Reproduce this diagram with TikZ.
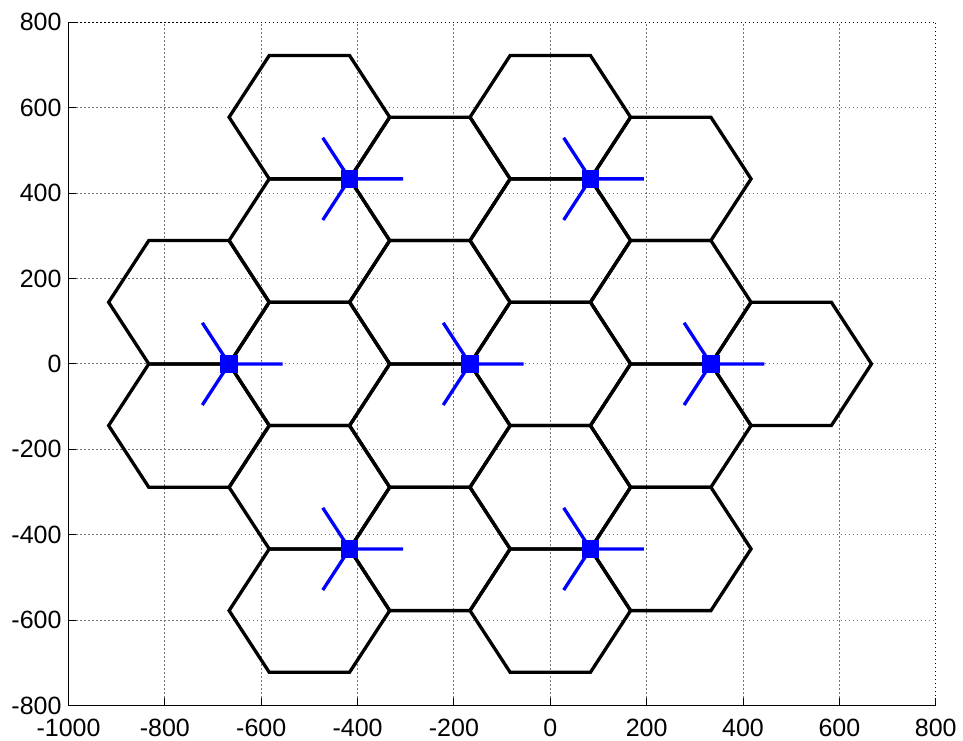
\documentclass[tikz,border=0pt]{standalone}
\usepackage{fontspec}
\setmainfont{Liberation Sans}
\begin{document}
\begin{tikzpicture}[x=0.4818pt,y=0.4273pt,
  gridline/.style={black!55, line width=0.9pt, dash pattern=on 1.5pt off 2.5pt},
  boxline/.style={black, line width=0.9pt},
  hexline/.style={black, line width=3.3pt},
  antenna/.style={blue, line width=3.3pt},
  sitebox/.style={fill=blue, draw=none, minimum size=17.5pt, inner sep=0pt},
  ticklab/.style={font=\fontsize{25}{25}\selectfont, inner sep=0pt}]
\useasboundingbox (-550.3pt,-376.1pt) rectangle (412.7pt,363.9pt);
% grid
\foreach \gx in {-800,-600,...,600} \draw[gridline] (\gx,-800) -- (\gx,800);
\foreach \gy in {-600,-400,...,600} \draw[gridline] (-1000,\gy) -- (800,\gy);
% axes box
\draw[boxline] (-1000,800) -- (-1000,-800) -- (800,-800);
\draw[gridline,black] (-1000,800) -- (800,800) -- (800,-800);
% ticks
\foreach \gx in {-800,-600,...,800} \draw[boxline] (\gx,-800) -- ++(0pt,8pt);
\foreach \gy in {-600,-400,...,800} \draw[boxline] (-1000,\gy) -- ++(8pt,0pt);
% tick labels
\foreach \gx [count=\i] in {-1000,-800,...,800}
  \node[ticklab, yshift=-22.3pt] (xl\i) at (\gx,-800) {\gx};
\foreach \gy [count=\i] in {-800,-600,...,800}
  \node[ticklab, anchor=east, xshift=-6.8pt] (yl\i) at (-1000,\gy) {\gy};
% hexagonal sectors
\foreach \sx/\sy in {-666.67/0, -166.67/0, 333.33/0, -416.67/433.01, 83.33/433.01, -416.67/-433.01, 83.33/-433.01} {
  \foreach \t in {0,120,240} {
    \draw[hexline] (\sx,\sy) ++(\t:166.67) ++(0:166.67) -- ++(120:166.67) -- ++(180:166.67) -- ++(240:166.67) -- ++(300:166.67) -- ++(0:166.67) -- cycle;
  }
}
% antennas and sites
\foreach \sx/\sy [count=\i] in {-666.67/0, -166.67/0, 333.33/0, -416.67/433.01, 83.33/433.01, -416.67/-433.01, 83.33/-433.01} {
  \draw[antenna] (\sx,\sy) -- ++(0:111.1) (\sx,\sy) -- ++(120:111.1) (\sx,\sy) -- ++(240:111.1);
  \node[sitebox] (s\i) at (\sx,\sy) {};
}
\end{tikzpicture}
\end{document}
